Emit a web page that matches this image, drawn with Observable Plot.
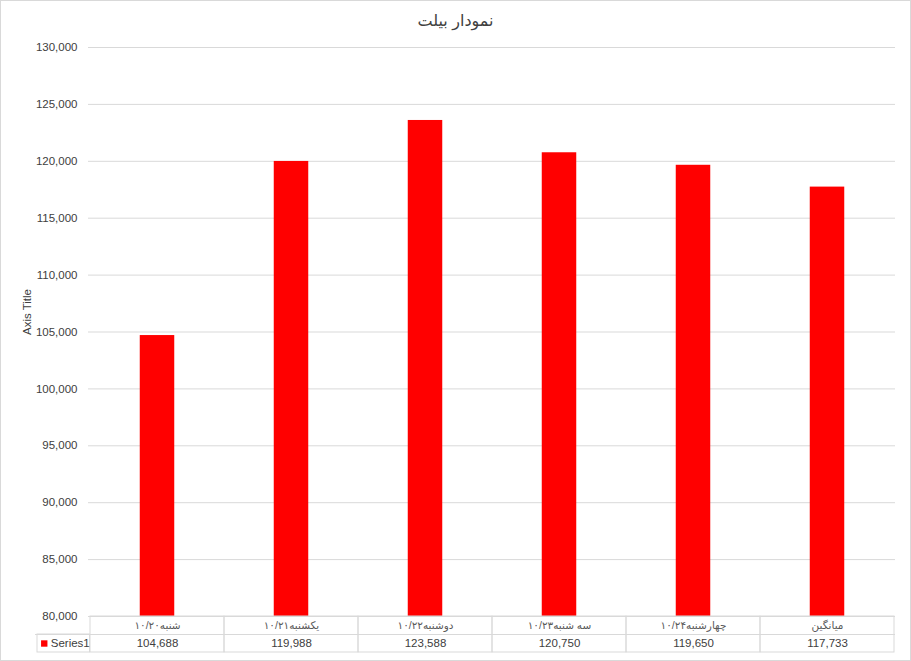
<!DOCTYPE html>
<html>
<head>
<meta charset="utf-8">
<script src="https://cdn.jsdelivr.net/npm/d3@7"></script>
<script src="https://cdn.jsdelivr.net/npm/@observablehq/plot@0.6"></script>
<style>
  html, body { margin: 0; padding: 0; background: #fff; }
  #chart svg { display: block; outline: 1px solid #d9d9d9; outline-offset: -1px; }
</style>
</head>
<body>
<div id="chart"></div>
<script>
const title = "نمودار بیلت";
const axisTitle = "Axis Title";
const seriesName = "Series1";
const categories = ["شنبه۱۰/۲۰", "یکشنبه۱۰/۲۱", "دوشنبه۱۰/۲۲", "سه شنبه۱۰/۲۳", "چهارشنبه۱۰/۲۴", "میانگین"];
const values = [104688, 119988, 123588, 120750, 119650, 117733];
const yTicks = [80000, 85000, 90000, 95000, 100000, 105000, 110000, 115000, 120000, 125000, 130000];

const data = categories.map((c, i) => ({category: c, value: values[i]}));
const fmt = d3.format(",");
const grid = "#d9d9d9";
const txt = "#404040";
const yMin = yTicks[0];

const W = 911, H = 661, mL = 88, mR = 16, mT = 47, mB = 45;
const band = (W - mL - mR) / categories.length;
const barW = 35;
const inset = (band - barW) / 2;
const rowH = 18;

const chart = Plot.plot({
  width: W, height: H,
  marginLeft: mL, marginRight: mR, marginTop: mT, marginBottom: mB,
  style: {fontFamily: "'Liberation Sans', 'DejaVu Sans', sans-serif", fontSize: "11px", color: txt, background: "#fff"},
  x: {domain: categories, padding: 0, axis: null},
  y: {domain: [yTicks[0], yTicks[yTicks.length - 1]], axis: null},
  marks: [
    Plot.ruleY(yTicks, {stroke: grid}),
    Plot.barY(data, {x: "category", y1: yMin, y2: "value", fill: "#ff0000", insetLeft: inset, insetRight: inset}),
    Plot.axisY({ticks: yTicks, tickSize: 0, tickPadding: 11, tickFormat: fmt, fontSize: 11.5, fill: txt, label: null}),
    // data table cells
    Plot.barY(data, {x: "category", y1: yMin, y2: yMin, insetBottom: -2 * rowH, fill: "none", stroke: grid}),
    Plot.ruleY([yMin], {dy: rowH, insetLeft: -53, stroke: grid}),
    Plot.barY([categories[0]], {x: d => d, y1: yMin, y2: yMin, insetTop: rowH, insetBottom: -2 * rowH, insetLeft: -53, insetRight: band, fill: "none", stroke: grid}),
    Plot.text(data, {x: "category", y: yMin, text: "category", dy: rowH / 2, fontSize: 10.5, fill: "#595959", lineAnchor: "middle"}),
    Plot.text(data, {x: "category", y: yMin, text: d => fmt(d.value), dy: rowH * 1.5, fontSize: 11.5, fill: txt, lineAnchor: "middle"}),
    // legend key in table
    Plot.dot([categories[0]], {x: d => d, y: yMin, dx: 42 - (mL + band / 2), dy: rowH * 1.5, symbol: "square", r: 3.6, fill: "#ff0000"}),
    Plot.text([seriesName], {x: () => categories[0], y: yMin, text: d => d, dx: 48.5 - (mL + band / 2), dy: rowH * 1.5, textAnchor: "start", fontSize: 11.5, fill: txt, lineAnchor: "middle"}),
    // titles
    Plot.text([title], {frameAnchor: "top", text: d => d, dx: 455 - (mL + (W - mL - mR) / 2), dy: -27, lineAnchor: "middle", fontSize: 16, fill: txt}),
    Plot.text([axisTitle], {frameAnchor: "left", text: d => d, dx: -61, dy: 3, rotate: -90, lineAnchor: "middle", fontSize: 11.5, fill: txt})
  ]
});
document.getElementById("chart").appendChild(chart);
</script>
</body>
</html>
